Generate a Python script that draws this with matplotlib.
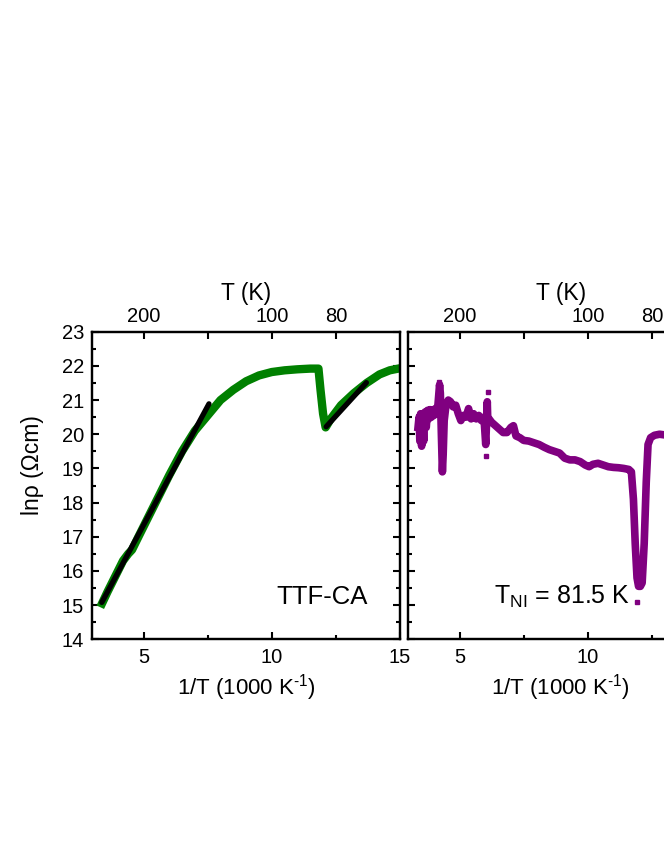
import matplotlib
matplotlib.use('Agg')
import matplotlib.pyplot as plt
from matplotlib.ticker import MultipleLocator, FixedLocator

plt.rcParams['font.family'] = ['Liberation Sans', 'DejaVu Sans']
plt.rcParams['mathtext.fontset'] = 'custom'
plt.rcParams['mathtext.rm'] = 'Liberation Sans'
plt.rcParams['mathtext.it'] = 'Liberation Sans:italic'

# TTF-CA, ln rho vs 1000/T
green_x = [3.38, 3.6, 3.9, 4.2, 4.4, 4.55, 4.8, 5.2, 5.6, 6.0, 6.5, 7.0, 7.5, 8.0,
           8.5, 9.0, 9.5, 10.0, 10.5, 11.0, 11.5, 11.82, 11.9, 12.0, 12.1, 12.3,
           12.7, 13.2, 13.7, 14.2, 14.6, 15.0]
green_y = [15.05, 15.4, 15.85, 16.3, 16.5, 16.62, 17.0, 17.6, 18.2, 18.8, 19.5, 20.1,
           20.55, 21.0, 21.3, 21.55, 21.72, 21.82, 21.87, 21.9, 21.92, 21.92, 21.3,
           20.6, 20.2, 20.45, 20.85, 21.2, 21.5, 21.75, 21.87, 21.93]

# linear fits (black)
fit1_x = [3.37, 7.55]
fit1_y = [15.08, 20.89]
fit2_x = [12.12, 13.69]
fit2_y = [20.22, 21.51]

# second sample (purple)
purple_x = [3.38, 3.42, 3.45, 3.48, 3.52, 3.55, 3.6, 3.65, 3.7, 3.75, 3.8, 3.85, 3.9,
            3.95, 4.0, 4.05, 4.1, 4.15, 4.22, 4.25, 4.29, 4.33, 4.36, 4.4, 4.47, 4.56,
            4.65, 4.75, 4.85, 4.95, 5.05, 5.15, 5.25, 5.35, 5.45, 5.55, 5.65,
            5.75, 5.85, 5.95, 6.02, 6.05, 6.08, 6.1, 6.15, 6.25, 6.4, 6.55, 6.7, 6.85,
            7.0, 7.1, 7.2, 7.35, 7.5, 7.7, 7.9, 8.1, 8.3, 8.5, 8.7, 8.9, 9.1, 9.3, 9.5,
            9.7, 9.9, 10.05, 10.2, 10.4, 10.6, 10.8, 11.0, 11.2, 11.4, 11.6, 11.7,
            11.78, 11.85, 11.92, 11.98, 12.05, 12.12, 12.2, 12.28, 12.35, 12.45, 12.6,
            12.8, 13.0, 13.3, 13.6, 14.0, 14.5, 15.0]
purple_y = [20.2, 20.5, 19.8, 20.6, 19.65, 20.55, 19.8, 20.65, 20.2, 20.7, 20.45, 20.72,
            20.5, 20.7, 20.55, 20.75, 20.6, 20.8, 21.45, 21.2, 20.0, 18.9, 19.4, 20.4,
            20.85, 21.0, 20.95, 20.8, 20.85, 20.6, 20.4, 20.55, 20.5, 20.75, 20.45,
            20.6, 20.45, 20.55, 20.4, 20.5, 19.7, 20.3, 20.95, 20.4, 20.45, 20.35,
            20.25, 20.15, 20.05, 20.05, 20.2, 20.25, 19.95, 19.9, 19.82, 19.8, 19.75,
            19.7, 19.62, 19.55, 19.5, 19.45, 19.3, 19.25, 19.25, 19.2, 19.1, 19.05,
            19.12, 19.15, 19.1, 19.05, 19.03, 19.02, 19.0, 18.97, 18.9, 18.1, 16.8,
            15.8, 15.55, 15.55, 15.65, 16.8, 18.6, 19.7, 19.9, 19.97, 20.0, 19.98, 20.0,
            20.0, 20.0, 20.0, 20.0]
# stray points
dots_x = [4.21, 6.09, 6.03, 11.93]
dots_y = [21.52, 21.25, 19.37, 15.1]

top_pos = [5, 10, 12.5]
top_lab = ['200', '100', '80']

fig = plt.figure(figsize=(6.64, 8.6), dpi=100)
ax1 = fig.add_axes([0.139, 0.2566, 0.4634, 0.3577])
ax2 = fig.add_axes([0.6149, 0.2566, 0.4634, 0.3577])

ax1.plot(green_x, green_y, color='green', lw=6, solid_joinstyle='round')
ax1.plot(fit1_x, fit1_y, color='black', lw=3.8, solid_capstyle='round')
ax1.plot(fit2_x, fit2_y, color='black', lw=3.8, solid_capstyle='round')
ax1.text(13.76, 15.25, 'TTF-CA', fontsize=18.5, ha='right', va='center')

ax2.plot(purple_x, purple_y, color='purple', lw=5.5, solid_joinstyle='round')
ax2.plot(dots_x, dots_y, ls='none', marker='s', ms=2.5, color='purple')
ax2.text(11.66, 15.25, r'T$_{\rm NI}$ = 81.5 K', fontsize=18, ha='right', va='center')

for i, ax in enumerate([ax1, ax2]):
    ax.set_xlim(3, 15)
    ax.set_ylim(14, 23)
    ax.xaxis.set_major_locator(FixedLocator([5, 10, 15]))
    ax.xaxis.set_minor_locator(FixedLocator([7.5, 12.5]))
    ax.yaxis.set_major_locator(MultipleLocator(1))
    ax.yaxis.set_minor_locator(MultipleLocator(0.5))
    ax.tick_params(which='both', direction='in', right=True, width=1.5,
                   labelsize=14.5, pad=6)
    ax.tick_params(which='major', length=5)
    ax.tick_params(which='minor', length=3)
    for s in ax.spines.values():
        s.set_linewidth(1.6)
    ax.set_xlabel(r'1/T (1000 K$^{\text{-1}}$)', fontsize=16)
    ax.xaxis.set_label_coords(0.5 if i == 0 else 0.495, -0.108)
    ax.xaxis.label.set_va('top')

    top = ax.twiny()
    top.set_xlim(3, 15)
    top.xaxis.set_major_locator(FixedLocator(top_pos))
    top.xaxis.set_minor_locator(FixedLocator([7.5]))
    top.set_xticklabels(top_lab)
    top.tick_params(which='both', direction='in', width=1.5, labelsize=14.5, pad=4)
    top.tick_params(which='major', length=5)
    top.tick_params(which='minor', length=5)
    for s in top.spines.values():
        s.set_linewidth(1.6)
    top.set_xlabel('T (K)', fontsize=16.5)
    top.xaxis.set_label_coords(0.5 if i == 0 else 0.495, 1.088)
    top.xaxis.label.set_va('bottom')

ax1.set_ylabel('lnρ (Ωcm)', fontsize=16.5)
ax1.yaxis.set_label_coords(-0.158, 0.567)
ax2.tick_params(labelleft=False)
ax2.set_xticks([5, 10, 15])
ax2.set_xticklabels(['5', '10', ''])

fig.savefig('out.png', dpi=100)
